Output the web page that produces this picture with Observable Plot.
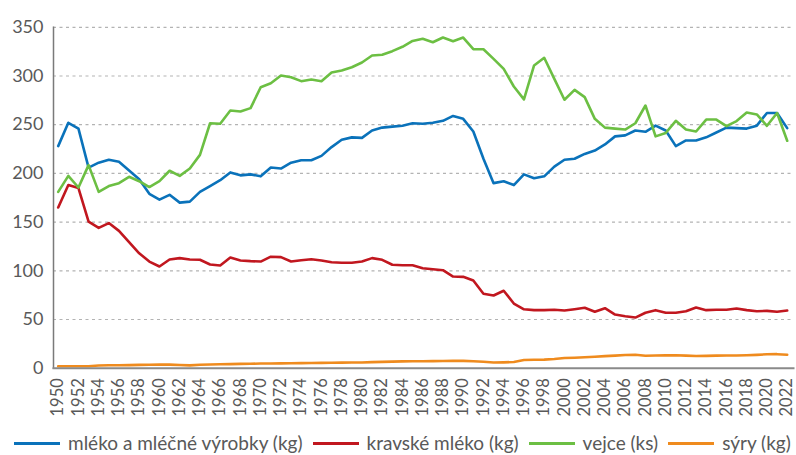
<!DOCTYPE html>
<html>
<head>
<meta charset="utf-8">
<script src="https://cdn.jsdelivr.net/npm/d3@7"></script>
<script src="https://cdn.jsdelivr.net/npm/@observablehq/plot@0.6"></script>
<style>
  html, body { margin: 0; padding: 0; background: #fff; overflow: hidden; }
  body { width: 796px; height: 455px; font-family: Lato, "Noto Sans", sans-serif; color: #595959; }
  #chart svg { display: block; }
  #legend { display: flex; align-items: center; white-space: nowrap; padding-left: 14px; margin-top: 9px; height: 18px; line-height: 18px; font-size: 19px; color: #595959; }
  .item { display: flex; align-items: center; margin-right: 10px; flex-shrink: 0; }
  .sw { width: 46px; height: 3px; margin-right: 8px; }
</style>
</head>
<body>
<div id="chart"></div>
<div id="legend"></div>
<script>
const years = [1950,1951,1952,1953,1954,1955,1956,1957,1958,1959,
  1960,1961,1962,1963,1964,1965,1966,1967,1968,1969,
  1970,1971,1972,1973,1974,1975,1976,1977,1978,1979,
  1980,1981,1982,1983,1984,1985,1986,1987,1988,1989,
  1990,1991,1992,1993,1994,1995,1996,1997,1998,1999,
  2000,2001,2002,2003,2004,2005,2006,2007,2008,2009,
  2010,2011,2012,2013,2014,2015,2016,2017,2018,2019,
  2020,2021,2022];

const seriesNames = ["mléko a mléčné výrobky (kg)", "kravské mléko (kg)", "vejce (ks)", "sýry (kg)"];
const seriesColors = ["#0a72ba", "#c1171f", "#6cbf43", "#ef8b1e"];

const mlekoVyrobky = [228,252,246,206,211,214,212,203,194,179,
  173,178,170,171,181,187,193,201,198,199,
  197,206,205,211,213.5,213.5,218,227,234.5,237,
  236.5,244,247,248,249,251.5,251,252,254,259,
  256,243,215,190,192,188,199,195,197,207,
  214,215,220,223.5,229.7,238,239,244,242.7,249,
  244,228,233.8,233.8,237,242,247,246.5,246,249,
  262,262,246.5];

const kravskeMleko = [165,188,185,150.5,144,149,141,129.4,118,109.5,
  104.4,111.6,113,111.6,111.3,106.5,105.4,113.6,110.6,109.9,
  109.5,114.5,114,109.5,110.9,111.9,110.6,108.8,108.2,108.2,
  109.5,113,111.3,106.2,105.7,105.7,102.7,101.6,100.6,94.1,
  93.8,90,76.4,74.6,79.5,66.4,60.5,59.6,59.6,60,
  59.2,60.6,62,57.9,61.6,55.1,53.4,52,56.9,59.6,
  56.9,56.9,58.5,62.3,59.6,60,60,61.3,59.6,58.5,
  58.9,57.9,59.2];

const vejce = [181,197.5,185.5,208.5,181,187,190,196.5,192,186,
  192,202.7,197.5,205,219,251.5,251,264.6,263.5,267,
  288.5,292.5,300.5,298.8,294.7,296.4,294.7,303.6,305.6,309,
  313.9,321,321.8,325.5,330,336,338.2,334.7,339.5,335.7,
  339.5,327.5,327.5,317.6,307.3,289.2,276,310.8,318.7,297,
  275.6,285.8,278.3,256,247,246,245,251.5,269.7,238,
  241.5,254,245,243,255.3,255.3,248.5,253.7,262.5,260.5,
  248.9,262,233.5];

const syry = [2,2,2,2,2.8,3,3,3.2,3.4,3.5,
  3.8,3.7,3.3,2.9,3.5,3.8,4,4.2,4.4,4.5,
  4.8,4.9,5,5.1,5.2,5.3,5.5,5.6,5.7,5.8,
  5.9,6.2,6.5,6.8,7,7.1,7.2,7.3,7.4,7.5,
  7.5,7.2,6.6,5.9,6,6.3,8.4,8.6,8.8,9.5,
  10.5,10.8,11.2,11.8,12.4,12.9,13.6,13.8,12.8,13,
  13.2,13.3,12.9,12.5,12.7,12.9,13,13,13.3,13.7,
  14.3,14.4,13.8];

const yTicks = [0,50,100,150,200,250,300,350];
const gridValues = [50,100,150,200,250,300,350];
const xTicks = [1950,1952,1954,1956,1958,1960,1962,1964,1966,1968,1970,1972,1974,1976,1978,1980,1982,1984,1986,1988,1990,1992,1994,1996,1998,2000,2002,2004,2006,2008,2010,2012,2014,2016,2018,2020,2022];

const allSeries = [mlekoVyrobky, kravskeMleko, vejce, syry];
const table = [];
allSeries.forEach((vals, si) => {
  vals.forEach((v, i) => table.push({year: years[i], value: v, series: seriesNames[si]}));
});

const H = 425;
const chart = Plot.plot({
  width: 796,
  height: H,
  marginLeft: 53,
  marginRight: 3,
  insetLeft: 4.7,
  insetRight: 6.3,
  marginTop: 26.8,
  marginBottom: H - 367.7,
  style: { fontFamily: "Lato, 'Noto Sans', sans-serif", color: "#595959", background: "#fff" },
  x: { domain: [1950, 2022] },
  y: { domain: [0, 350] },
  color: { domain: seriesNames, range: seriesColors },
  marks: [
    Plot.ruleY(gridValues, { stroke: "#b3b3b3", strokeWidth: 1.2, strokeDasharray: "3,3.5" }),
    Plot.axisY(yTicks, { tickSize: 0, tickPadding: 10, fontSize: 18, label: null, tickFormat: d => String(d) }),
    Plot.axisX(xTicks, { tickSize: 0, tickPadding: 10, tickRotate: -90, fontSize: 16.5, label: null, tickFormat: d => String(d) }),
    Plot.frame({ anchor: "left", stroke: "#7a7a7a", strokeWidth: 1.5 }),
    Plot.line(table, { x: "year", y: "value", z: "series", stroke: "series", strokeWidth: 2.6, strokeLinejoin: "round" }),
    Plot.frame({ anchor: "bottom", stroke: "#8a8a8a", strokeWidth: 2 })
  ]
});
document.getElementById("chart").appendChild(chart);

const legend = document.getElementById("legend");
seriesNames.forEach((name, i) => {
  const item = document.createElement("div");
  item.className = "item";
  const sw = document.createElement("div");
  sw.className = "sw";
  sw.style.background = seriesColors[i];
  const t = document.createElement("span");
  t.textContent = name;
  item.appendChild(sw);
  item.appendChild(t);
  legend.appendChild(item);
});
</script>
</body>
</html>
